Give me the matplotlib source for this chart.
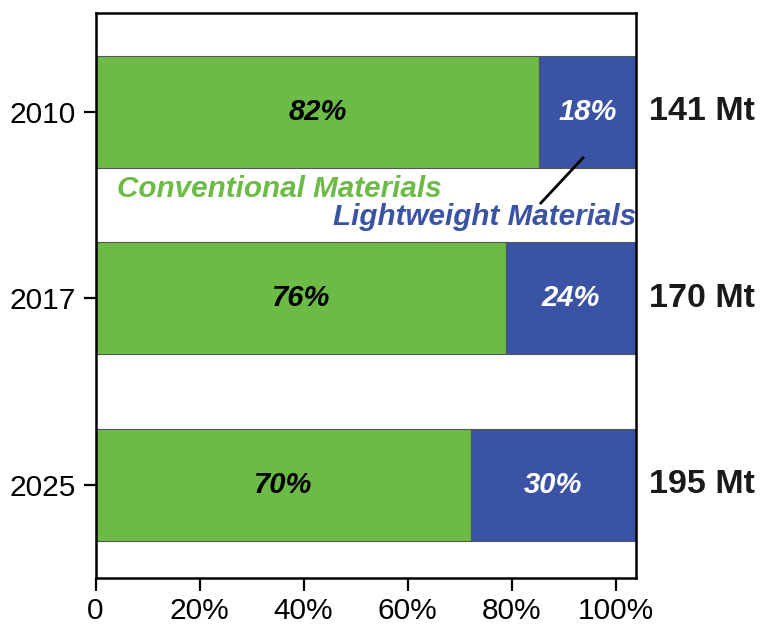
import matplotlib
matplotlib.use("Agg")
import matplotlib.pyplot as plt

plt.rcParams['font.family'] = ['Liberation Sans', 'DejaVu Sans']

years = ["2010", "2017", "2025"]
conventional_extent = [85.3, 78.9, 72.1]   # drawn end of green bar (% of axis)
axis_total = 103.9                         # bars run to the right spine
conventional_labels = ["82%", "76%", "70%"]
lightweight_labels = ["18%", "24%", "30%"]
totals = ["141 Mt", "170 Mt", "195 Mt"]
xticks = [0, 20, 40, 60, 80, 100]
xtick_labels = ["0", "20%", "40%", "60%", "80%", "100%"]

green = "#6BBB46"
blue = "#3A53A4"

fig = plt.figure(figsize=(7.63, 6.25), dpi=100)
ax = fig.add_axes([0.1252, 0.0752, 0.7084, 0.9035])

ypos = list(range(len(years)))
lightweight_width = [axis_total - c for c in conventional_extent]

ax.barh(ypos, conventional_extent, height=0.6, color=green,
        edgecolor="#555555", linewidth=0.8, zorder=2)
ax.barh(ypos, lightweight_width, left=conventional_extent, height=0.6,
        color=blue, edgecolor="#555555", linewidth=0.8, zorder=2)

for y, c, cl, ll, tot in zip(ypos, conventional_extent, conventional_labels,
                             lightweight_labels, totals):
    ax.text(c / 2, y, cl, ha="center", va="center", fontsize=21,
            fontweight="bold", fontstyle="italic", color="black", zorder=3)
    ax.text((c + axis_total) / 2, y, ll, ha="center", va="center",
            fontsize=21, fontweight="bold", fontstyle="italic",
            color="white", zorder=3)
    ax.text(axis_total + 2.4, y, tot, ha="left", va="center", fontsize=24.5,
            fontweight="bold", color="#1a1a1a", clip_on=False)

ax.set_xlim(0, axis_total)
ax.set_ylim(2.5, -0.527)
ax.set_yticks(ypos)
ax.set_yticklabels(years, fontsize=21.5)
ax.set_xticks(xticks)
ax.set_xticklabels(xtick_labels, fontsize=21.5)
ax.tick_params(axis="both", length=9, width=1.6, color="black", pad=5)

for s in ax.spines.values():
    s.set_linewidth(1.8)
    s.set_color("black")

# Series labels
ax.text(4.1, 0.415, "Conventional Materials", ha="left", va="center",
        fontsize=21.3, fontweight="bold", fontstyle="italic", color=green)
ax.text(axis_total, 0.565, "Lightweight Materials", ha="right", va="center",
        fontsize=21.3, fontweight="bold", fontstyle="italic", color=blue,
        zorder=4)
ax.plot([85.6, 93.7], [0.49, 0.248], color="black", linewidth=2,
        zorder=4, clip_on=False)

fig.savefig("out.png", dpi=100)
